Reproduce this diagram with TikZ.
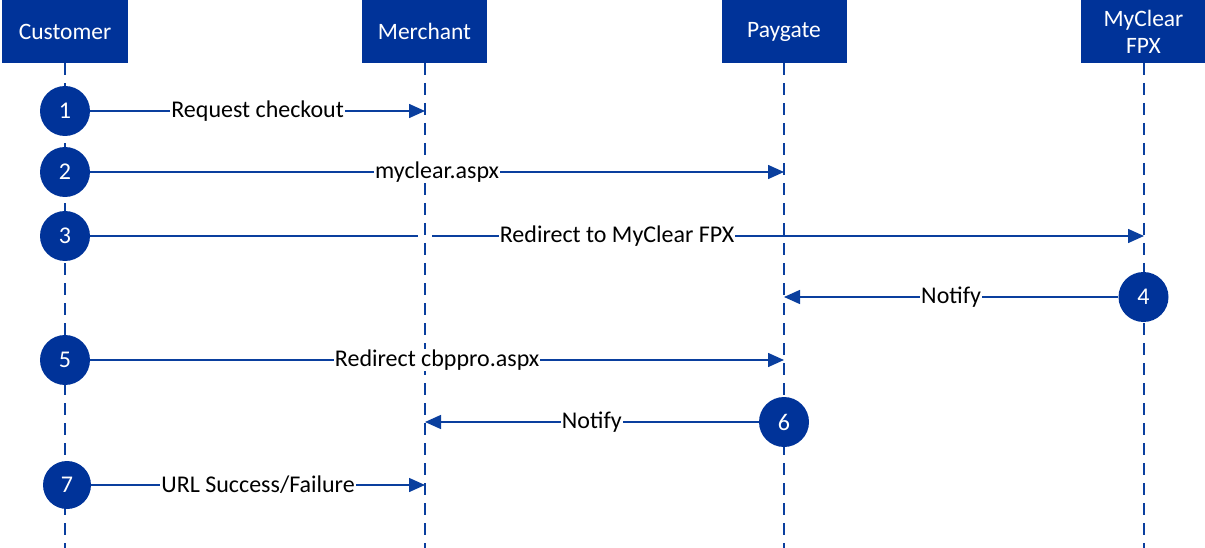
\documentclass[tikz,border=0pt]{standalone}
\usepackage{fontspec}
\setmainfont{Carlito}
\usetikzlibrary{arrows.meta}
\definecolor{fpxblue}{HTML}{003399}
\definecolor{lineblue}{HTML}{0A3F9E}
\begin{document}
\begin{tikzpicture}[x=1pt,y=-1pt,
  head/.style={fill=fpxblue, text=white, minimum width=125pt, minimum height=63pt,
    inner sep=0pt, align=center, font=\fontsize{23.5}{27}\selectfont},
  lifeline/.style={draw=lineblue, line width=2pt, dash pattern=on 12pt off 8pt},
  stepnum/.style={circle, fill=fpxblue, text=white, minimum size=50pt, inner sep=0pt,
    font=\fontsize{24}{28}\selectfont},
  msgline/.style={draw=lineblue, line width=1.5pt},
  msg/.style={msgline, -{Triangle[length=16pt,width=14pt]}},
  lbl/.style={fill=white, inner sep=1pt, text=black, font=\fontsize{24}{28}\selectfont}]
\useasboundingbox (0,0) rectangle (1205,548);
% headers
\node[head, minimum width=126pt] (cust) at (65,31.5) {Customer};
\node[head] (merch) at (424.5,31.5) {Merchant};
\node[head] (pay) at (784,31.5) {Paygate};
\node[head] (fpx) at (1143.5,31.5) {MyClear\\FPX};
% lifeline ends
\coordinate (custb) at (65,548);
\coordinate (merchb) at (425,548);
\coordinate (payb) at (784,548);
\coordinate (fpxb) at (1144,548);
\draw[lifeline] (cust.south) -- (custb);
\draw[lifeline] (425,63) -- (merchb);
\draw[lifeline] (pay.south) -- (payb);
\draw[lifeline] (1144,63) -- (fpxb);
% step circles
\node[stepnum] (s1) at (65,111) {1};
\node[stepnum] (s2) at (65,172) {2};
\node[stepnum] (s3) at (65,236) {3};
\node[stepnum] (s4) at (1143.5,297) {4};
\node[stepnum] (s5) at (65,360) {5};
\node[stepnum] (s6) at (784,422) {6};
\node[stepnum, minimum size=48pt] (s7) at (67,485) {7};
% message endpoints
\coordinate (e1) at (425,111);
\coordinate (e2) at (784,172);
\coordinate (g3a) at (418,236);
\coordinate (g3b) at (432,236);
\coordinate (e3) at (1144,236);
\coordinate (e4) at (784,297);
\coordinate (e5) at (784,360);
\coordinate (e6) at (425,422);
\coordinate (e7) at (425,485);
% messages
\draw[msg] (s1) -- (e1) node[midway, lbl] {Request checkout};
\draw[msg] (s2) -- (e2) node[midway, lbl] {myclear.aspx};
\draw[msgline] (s3) -- (g3a);
\draw[msg] (g3b) -- (e3);
\path (s3) -- (e3) node[midway, lbl] {Redirect to MyClear FPX};
\draw[msg] (s4) -- (e4) node[midway, lbl] {Notify};
\draw[msg] (s5) -- (e5) node[midway, lbl] {Redirect cbppro.aspx};
\draw[msg] (s6) -- (e6) node[midway, lbl] {Notify};
\draw[msg] (s7) -- (e7) node[midway, lbl] {URL Success/Failure};
\end{tikzpicture}
\end{document}
